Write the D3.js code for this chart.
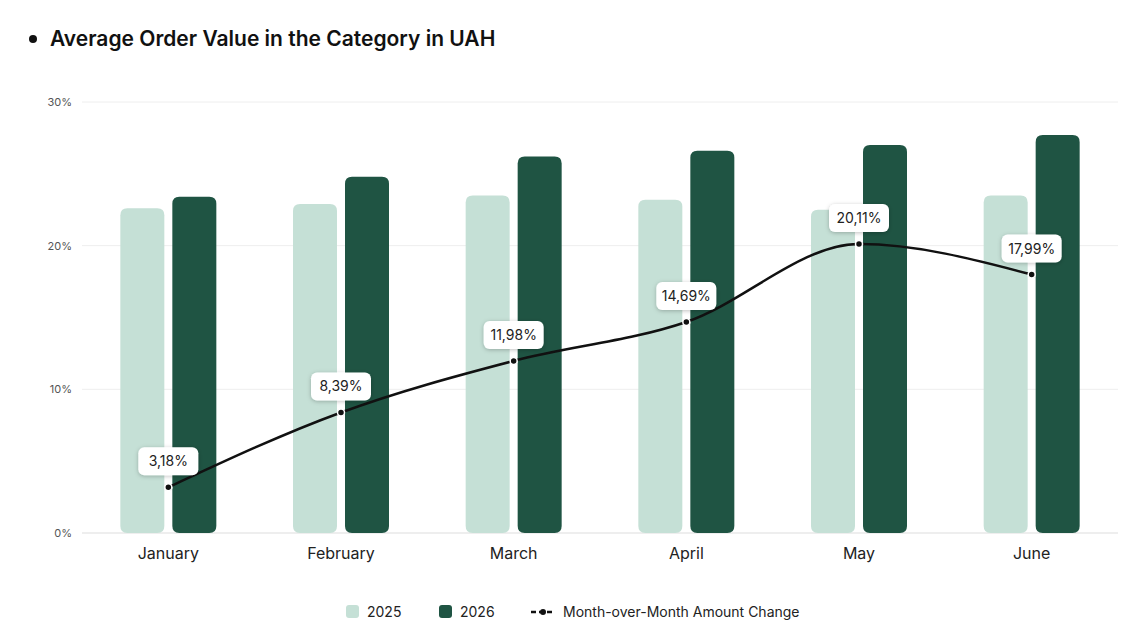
<!DOCTYPE html>
<html><head><meta charset="utf-8">
<script src="https://cdn.jsdelivr.net/npm/d3@7"></script>
<style>
body{margin:0;background:#fff;font-family:Inter,"Noto Sans",sans-serif;}
</style></head>
<body><svg id="chart"></svg>
<script>
const months = ["January","February","March","April","May","June"];
const values2025 = [22.6, 22.9, 23.5, 23.2, 22.5, 23.5];
const values2026 = [23.4, 24.8, 26.2, 26.6, 27.0, 27.7];
const momChange = [3.18, 8.39, 11.98, 14.69, 20.11, 17.99];
const yTicks = [0, 10, 20, 30];

const width = 1148, height = 623;
const margin = { top: 102, right: 30, bottom: 90, left: 82 };

const svg = d3.select("#chart").attr("width", width).attr("height", height);

// titulo
svg.append("circle").attr("cx", 33).attr("cy", 39).attr("r", 4).attr("fill", "#111");
svg.append("text").attr("x", 50).attr("y", 46).text("Average Order Value in the Category in UAH")
  .style("font-size", "21px").style("font-weight", "600").attr("fill", "#111");

const x = d3.scaleBand().domain(months).range([margin.left, width - margin.right]);
const y = d3.scaleLinear().domain([0, 30]).range([height - margin.bottom, margin.top]);

// grid
svg.append("g").selectAll("line").data(yTicks).join("line")
  .attr("x1", margin.left).attr("x2", width - margin.right)
  .attr("y1", d => y(d)).attr("y2", d => y(d))
  .attr("stroke", d => d === 0 ? "#ddd" : "#eee");
svg.append("g").selectAll("text").data(yTicks).join("text")
  .attr("x", 72).attr("y", d => y(d) + 4).attr("text-anchor", "end")
  .text(d => d + "%").style("font-size", "11px").attr("fill", "#555");

// etiquetas de meses
svg.append("g").selectAll("text").data(months).join("text")
  .attr("x", d => x(d) + x.bandwidth() / 2).attr("y", y(0) + 26).attr("text-anchor", "middle")
  .text(d => d).style("font-size", "16px").attr("fill", "#222");

const barW = 44, gap = 8;
const drawBars = (vals, color, off) => {
  svg.append("g").selectAll("path").data(vals).join("path")
    .attr("fill", color)
    .attr("d", (d, i) => {
      const x0 = x(months[i]) + x.bandwidth() / 2 + off, y0 = y(d), y1 = y(0), r = 7;
      return `M${x0},${y1 - r}V${y0 + r}Q${x0},${y0} ${x0 + r},${y0}H${x0 + barW - r}Q${x0 + barW},${y0} ${x0 + barW},${y0 + r}V${y1 - r}Q${x0 + barW},${y1} ${x0 + barW - r},${y1}H${x0 + r}Q${x0},${y1} ${x0},${y1 - r}Z`;
    });
};
drawBars(values2025, "#c5e0d6", -barW - gap / 2);
drawBars(values2026, "#1f5443", gap / 2);

// linea
const px = i => x(months[i]) + x.bandwidth() / 2;
const line = d3.line().x((d, i) => px(i)).y(d => y(d)).curve(d3.curveMonotoneX);
svg.append("path").datum(momChange).attr("d", line).attr("fill", "none")
  .attr("stroke", "#111").attr("stroke-width", 2.5);
svg.append("g").selectAll("circle").data(momChange).join("circle")
  .attr("cx", (d, i) => px(i)).attr("cy", d => y(d)).attr("r", 3.5)
  .attr("fill", "#111").attr("stroke", "#fff").attr("stroke-width", 1.5);

const defs = svg.append("defs");
defs.append("filter").attr("id", "sh").attr("x", "-30%").attr("y", "-50%").attr("width", "160%").attr("height", "200%")
  .append("feDropShadow").attr("dx", 0).attr("dy", 1).attr("stdDeviation", 2).attr("flood-opacity", 0.25);

const lbl = svg.append("g").selectAll("g").data(momChange).join("g")
  .attr("transform", (d, i) => `translate(${px(i)},${y(d) - 26})`);
lbl.append("rect").attr("x", -30).attr("y", -14).attr("width", 60).attr("height", 28).attr("rx", 6)
  .attr("fill", "#fff").attr("filter", "url(#sh)");
lbl.append("text").attr("text-anchor", "middle").attr("y", 5)
  .text(d => d.toFixed(2).replace(".", ",") + "%").style("font-size", "14px").attr("fill", "#222");

// leyenda
const lg = svg.append("g").attr("transform", "translate(0,612)");
lg.append("rect").attr("x", 346).attr("y", -7).attr("width", 13).attr("height", 13).attr("rx", 3).attr("fill", "#c5e0d6");
lg.append("text").attr("x", 367).attr("y", 5).text("2025").style("font-size", "14px").attr("fill", "#222");
lg.append("rect").attr("x", 439).attr("y", -7).attr("width", 13).attr("height", 13).attr("rx", 3).attr("fill", "#1f5443");
lg.append("text").attr("x", 460).attr("y", 5).text("2026").style("font-size", "14px").attr("fill", "#222");
lg.append("line").attr("x1", 531).attr("x2", 555).attr("y1", 0).attr("y2", 0).attr("stroke", "#111")
  .attr("stroke-width", 2.5).attr("stroke-dasharray", "5,3");
lg.append("circle").attr("cx", 543).attr("cy", 0).attr("r", 3).attr("fill", "#111");
lg.append("text").attr("x", 563).attr("y", 5).text("Month-over-Month Amount Change").style("font-size", "14px").attr("fill", "#222");
</script></body></html>
